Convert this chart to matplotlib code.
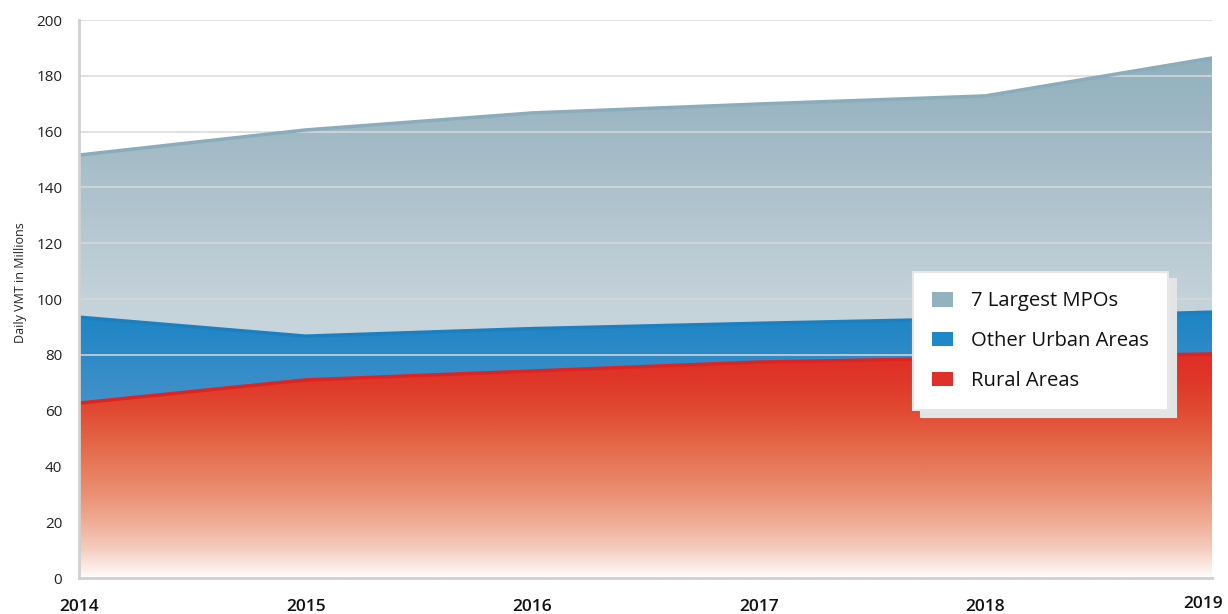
import numpy as np
import matplotlib
matplotlib.use("Agg")
import matplotlib.pyplot as plt
from matplotlib.colors import LinearSegmentedColormap
from matplotlib.patches import Patch
import matplotlib.transforms as mtrans

plt.rcParams['font.family'] = ['Open Sans', 'DejaVu Sans']

years = [2014, 2015, 2016, 2017, 2018, 2019]
rural = [62.7, 71.0, 74.2, 77.4, 78.9, 80.3]
other_urban = [30.8, 15.7, 15.2, 13.9, 14.1, 15.0]
largest_mpos = [58.1, 73.9, 77.3, 78.6, 79.8, 91.1]
labels = ['7 Largest MPOs', 'Other Urban Areas', 'Rural Areas']
yticks = [0, 20, 40, 60, 80, 100, 120, 140, 160, 180, 200]

x = np.array(years, dtype=float)
r = np.array(rural)
u = r + np.array(other_urban)
m = u + np.array(largest_mpos)

fig = plt.figure(figsize=(12.28, 6.14), dpi=100)
ax = fig.add_axes([0.0643, 0.0586, 0.9227, 0.9088])


def grad_fill(lo, hi, stops, zorder):
    poly = ax.fill_between(x, lo, hi, facecolor='none', edgecolor='none', zorder=zorder)
    path = poly.get_paths()[0]
    y0, y1 = 0, 200
    cm = LinearSegmentedColormap.from_list('g', [((v - y0) / (y1 - y0), c) for v, c in stops])
    grad = np.linspace(0, 1, 512).reshape(-1, 1)
    im = ax.imshow(grad, extent=[x[0], x[-1], y0, y1], origin='lower', aspect='auto',
                   cmap=cm, vmin=0, vmax=1, zorder=zorder, interpolation='bilinear')
    im.set_clip_path(path, transform=ax.transData)


grad_fill(u, m, [(0, '#d0dbe1'), (80, '#c9d6dd'), (100, '#c4d2da'), (150, '#a6bdc8'),
                 (190, '#8eafbd'), (200, '#8aacbb')], 1)
grad_fill(r, u, [(0, '#5a9ccf'), (60, '#4592ca'), (80, '#2e8ac7'), (95, '#1d85c5'),
                 (200, '#1a82c3')], 2)
grad_fill(np.zeros_like(r), r, [(0, '#fffcfb'), (10, '#f5cdbf'), (20, '#efac94'),
                               (30, '#eb9073'), (40, '#e7795a'), (50, '#e36243'),
                               (60, '#e04a32'), (70, '#df3829'), (82, '#df2c26'),
                               (200, '#df2c26')], 3)

ax.plot(x, m, color='#8bacba', lw=2.5, zorder=4, solid_capstyle='butt')
ax.plot(x, u, color='#1a80c2', lw=2.5, zorder=4, solid_capstyle='butt')
ax.plot(x, r, color='#e1231f', lw=2.5, zorder=4, solid_capstyle='butt')

ax.set_xlim(x[0], x[-1])
ax.set_ylim(0, 200)
ax.set_yticks(yticks)
ax.set_xticks(years)
ax.set_xticklabels([str(y) for y in years])
ax.grid(axis='y', color='#d9d9d9', lw=1.3, alpha=0.85, zorder=5)
ax.set_axisbelow(False)
for gl in ax.get_ygridlines():
    gl.set_zorder(5)

for s in ['top', 'right']:
    ax.spines[s].set_visible(False)
for s in ['left', 'bottom']:
    ax.spines[s].set_color('#d0d0d0')
    ax.spines[s].set_linewidth(2)
    ax.spines[s].set_zorder(6)

ax.tick_params(axis='y', length=0, pad=12, labelsize=11, labelcolor='#222222')
ax.tick_params(axis='x', length=0, pad=15, labelsize=12.5, labelcolor='#111111')
for t in ax.get_xticklabels():
    t.set_fontweight('semibold')
last = ax.get_xticklabels()[-1]
last.set_transform(last.get_transform() + mtrans.ScaledTranslation(-9 / 100, 3 / 100, fig.dpi_scale_trans))

ax.set_ylabel('Daily VMT in Millions', fontsize=9, color='#222222')
ax.yaxis.set_label_coords(-0.046, 0.53)

handles = [Patch(facecolor='#93b2c0', edgecolor='none'),
           Patch(facecolor='#1f88c8', edgecolor='none'),
           Patch(facecolor='#e0302a', edgecolor='none')]
leg = ax.legend(handles, labels, loc='upper left',
                bbox_to_anchor=(913 / 1228, 1 - 272 / 614), bbox_transform=fig.transFigure,
                fontsize=14.6, frameon=True, fancybox=False, borderpad=0.95,
                handlelength=1.0, handleheight=0.75, handletextpad=0.9,
                labelspacing=0.98, borderaxespad=0,
                shadow={'color': '#e3e4e6', 'alpha': 1, 'ox': 6, 'oy': -5})
leg.get_frame().set_edgecolor('#e6e6e6')
leg.get_frame().set_linewidth(1.5)
leg.get_frame().set_alpha(1)
leg.set_zorder(10)
for t in leg.get_texts():
    t.set_color('#111111')

fig.savefig('out.png', dpi=100)
